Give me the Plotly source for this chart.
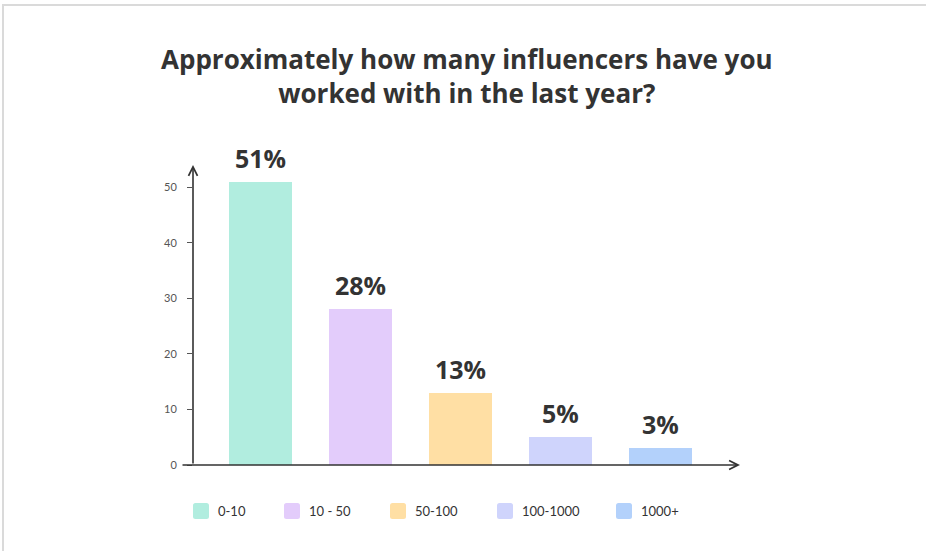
import plotly.graph_objects as go

# Survey answers: share of respondents per influencer-count bucket
categories = ["0-10", "10 - 50", "50-100", "100-1000", "1000+"]
shares = [51, 28, 13, 5, 3]
colors = ["#B1EDDF", "#E3CCFB", "#FFDFA4", "#CFD4FC", "#B3D1FB"]
y_ticks = [0, 10, 20, 30, 40, 50]
title_text = "<b>Approximately how many influencers have you<br>worked with in the last year?</b>"

W, H = 926, 551
L, R, T, B = 193, 186, 165, 86
XR = [-0.675, 4.795]
YR = [0, 54]
FONT = "Lato, 'Open Sans', sans-serif"
TITLE_FONT = "'Open Sans', Lato, sans-serif"
DARK = "#333333"

xs = list(range(len(categories)))

fig = go.Figure()
fig.add_trace(go.Bar(
    x=xs, y=shares, width=0.63,
    marker=dict(color=colors, line=dict(width=0)),
    hoverinfo="skip", showlegend=False,
))

# Value labels above each bar
for xi, v in zip(xs, shares):
    fig.add_annotation(x=xi, y=v, text=f"<b>{v}%</b>", showarrow=False,
                       yanchor="bottom", yshift=5,
                       font=dict(family=TITLE_FONT, size=25, color=DARK))

# Axis lines with open arrowheads
fig.add_annotation(x=XR[0], y=YR[1], ax=XR[0], ay=0, xref="x", yref="y",
                   axref="x", ayref="y", showarrow=True, arrowhead=5,
                   arrowsize=1.1, arrowwidth=1.6, arrowcolor=DARK, text="")
fig.add_annotation(x=XR[1], y=0, ax=XR[0] - 0.12, ay=0, xref="x", yref="y",
                   axref="x", ayref="y", showarrow=True, arrowhead=5,
                   arrowsize=1.1, arrowwidth=1.6, arrowcolor=DARK, text="")

# Pixel -> paper helpers for elements placed outside the plot area
pw, ph = W - L - R, H - T - B
def px_x(p):
    return (p - L) / pw
def px_y(p):
    return (H - B - p) / ph

# Title
fig.add_annotation(x=px_x(466.5), y=px_y(76), xref="paper", yref="paper",
                   text=title_text, showarrow=False, xanchor="center", yanchor="middle",
                   align="center", font=dict(family=TITLE_FONT, size=26, color=DARK))

def rounded_square(lx, cy, size, r):
    pts = [("M", lx + r, cy - size / 2), ("L", lx + size - r, cy - size / 2),
           ("Q", lx + size, cy - size / 2, lx + size, cy - size / 2 + r),
           ("L", lx + size, cy + size / 2 - r),
           ("Q", lx + size, cy + size / 2, lx + size - r, cy + size / 2),
           ("L", lx + r, cy + size / 2),
           ("Q", lx, cy + size / 2, lx, cy + size / 2 - r),
           ("L", lx, cy - size / 2 + r),
           ("Q", lx, cy - size / 2, lx + r, cy - size / 2)]
    parts = []
    for p in pts:
        cmd, coords = p[0], p[1:]
        xy = [f"{px_x(coords[i]):.5f},{px_y(coords[i + 1]):.5f}" for i in range(0, len(coords), 2)]
        parts.append(cmd + " ".join(xy))
    return " ".join(parts) + " Z"

# Custom legend: rounded swatches with labels
legend_x = [193, 284, 390, 497, 616]
legend_y = 511
sq = 16
for lx, c, name in zip(legend_x, colors, categories):
    fig.add_shape(type="path", path=rounded_square(lx, legend_y, sq, 2.5),
                  xref="paper", yref="paper", fillcolor=c, line=dict(width=0))
    fig.add_annotation(x=px_x(lx + sq + 7), y=px_y(legend_y), xref="paper", yref="paper",
                       text=name, showarrow=False, xanchor="left", yanchor="middle",
                       font=dict(family=FONT, size=13, color=DARK))

# Card border
fig.add_shape(type="rect", xref="paper", yref="paper",
              x0=px_x(3), x1=px_x(W + 20), y0=px_y(H + 20), y1=px_y(5),
              line=dict(color="#DADADA", width=2), fillcolor="rgba(0,0,0,0)", layer="below")

fig.update_layout(
    width=W, height=H,
    margin=dict(l=L, r=R, t=T, b=B),
    paper_bgcolor="white", plot_bgcolor="white",
    xaxis=dict(range=XR, showgrid=False, zeroline=False, showline=False,
               showticklabels=False, ticks="", fixedrange=True),
    yaxis=dict(range=YR, tickvals=y_ticks, showgrid=False, zeroline=False,
               showline=False, ticks="outside", ticklen=5, tickwidth=1,
               tickcolor="#555555", ticklabelstandoff=8,
               tickfont=dict(family=FONT, size=11, color="#555555"),
               fixedrange=True),
    bargap=0,
)

fig.write_html("out.html")
